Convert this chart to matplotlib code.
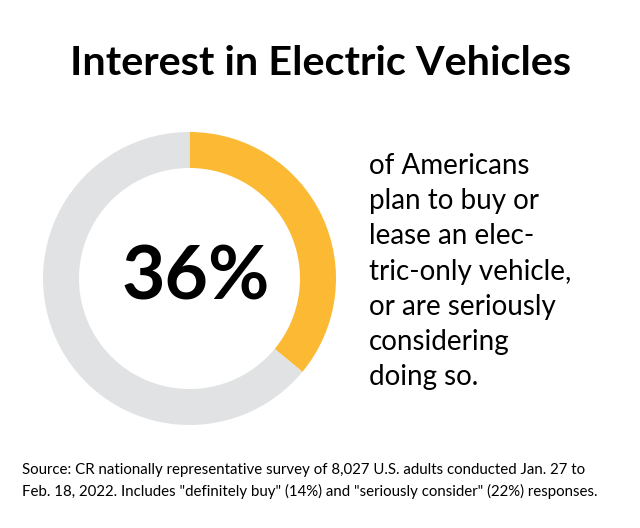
import matplotlib.pyplot as plt

# Data
share_labels = ["Plan to buy / seriously consider", "Other"]
share_values = [36, 64]
share_colors = ["#FBB934", "#E1E2E3"]

title = "Interest in Electric Vehicles"
side_lines = [
    "of Americans",
    "plan to buy or",
    "lease an elec-",
    "tric-only vehicle,",
    "or are seriously",
    "considering",
    "doing so.",
]
source_lines = [
    "Source: CR nationally representative survey of 8,027 U.S. adults conducted Jan. 27 to",
    "Feb. 18, 2022. Includes \"definitely buy\" (14%) and \"seriously consider\" (22%) responses.",
]

W, H = 640, 528
plt.rcParams['font.family'] = ['Lato', 'DejaVu Sans']

fig = plt.figure(figsize=(W / 100, H / 100), dpi=100)
fig.patch.set_facecolor("white")

# donut: center (189.5, 278.5) px, outer radius ~146.5 px, ring ~36 px
cx, cy, half = 189.5, 278.5, 150
ax = fig.add_axes([(cx - half) / W, (H - cy - half) / H, 2 * half / W, 2 * half / H])
ax.pie(share_values, colors=share_colors, startangle=90, counterclock=False,
       radius=146.5, wedgeprops=dict(width=36, linewidth=0))
ax.set_xlim(-half, half)
ax.set_ylim(-half, half)
ax.set_aspect("equal")
ax.axis("off")
ax.text(6, 0, f"{share_values[0]}%", ha="center", va="center",
        fontsize=54, fontweight="bold", color="black")

# title
fig.text(321 / W, 1 - 75 / H, title, ha="center", va="baseline",
         fontsize=29.8, fontweight="bold", color="black")

# side text
y0, dy = 174, 35.2
for i, line in enumerate(side_lines):
    fig.text(369 / W, 1 - (y0 + i * dy) / H, line, ha="left", va="baseline",
             fontsize=20, color="black")

# source
for i, line in enumerate(source_lines):
    fig.text(22 / W, 1 - (474 + i * 22) / H, line, ha="left", va="baseline",
             fontsize=10.8, color="black")

fig.savefig("out.png", dpi=100, facecolor="white")
